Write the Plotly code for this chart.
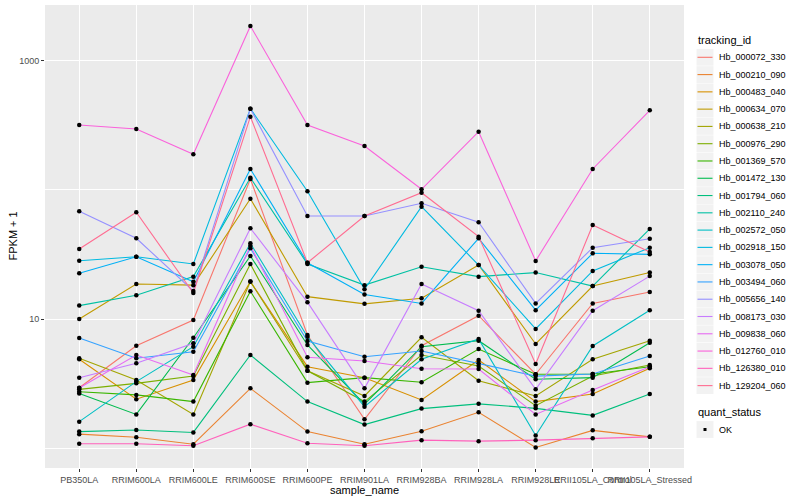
import plotly.graph_objects as go

samples = ["PB350LA", "RRIM600LA", "RRIM600LE", "RRIM600SE", "RRIM600PE", "RRIM901LA",
           "RRIM928BA", "RRIM928LA", "RRIM928LE", "RRII105LA_Control", "RRII105LA_Stressed"]

tracking_ids = ["Hb_000072_330", "Hb_000210_090", "Hb_000483_040", "Hb_000634_070",
                "Hb_000638_210", "Hb_000976_290", "Hb_001369_570", "Hb_001472_130",
                "Hb_001794_060", "Hb_002110_240", "Hb_002572_050", "Hb_002918_150",
                "Hb_003078_050", "Hb_003494_060", "Hb_005656_140", "Hb_008173_030",
                "Hb_009838_060", "Hb_012760_010", "Hb_126380_010", "Hb_129204_060"]

colors = ["#F8766D", "#EA8331", "#D89000", "#C09B00", "#A3A500", "#7CAE00", "#39B600",
          "#00BB4E", "#00BF7D", "#00C1A3", "#00BFC4", "#00BAE0", "#00B0F6", "#35A2FF",
          "#9590FF", "#C77CFF", "#E76BF3", "#FA62DB", "#FF62BC", "#FF6C91"]

# FPKM + 1 values per sample (order of `samples`)
Hb_000072_330 = [2.93, 6.21, 9.82, 121.7, 7.52, 1.67, 6.21, 10.6, 3.73, 13.2, 16.2]
Hb_000210_090 = [1.28, 1.21, 1.07, 2.90, 1.34, 1.07, 1.35, 1.89, 1.01, 1.37, 1.22]
Hb_000483_040 = [4.87, 2.39, 3.37, 19.5, 4.27, 3.51, 2.36, 4.81, 2.29, 2.62, 4.15]
Hb_000634_070 = [10.0, 18.7, 18.3, 85.6, 14.9, 13.1, 14.5, 26.2, 6.40, 18.0, 22.9]
Hb_000638_210 = [4.96, 3.37, 1.82, 19.5, 3.97, 2.53, 7.21, 3.32, 2.53, 4.87, 6.79]
Hb_000976_290 = [2.85, 3.17, 3.61, 26.7, 3.97, 2.29, 5.26, 4.32, 2.13, 3.61, 4.40]
Hb_001369_570 = [2.73, 2.58, 2.29, 16.4, 3.21, 3.51, 3.23, 5.85, 3.73, 3.75, 4.27]
Hb_001472_130 = [2.65, 1.82, 7.16, 30.8, 6.29, 2.19, 6.10, 6.79, 3.41, 3.51, 6.55]
Hb_001794_060 = [1.34, 1.38, 1.32, 5.26, 2.29, 1.52, 2.02, 2.20, 2.03, 1.79, 2.62]
Hb_002110_240 = [12.7, 15.3, 21.3, 124.5, 26.7, 18.3, 25.4, 21.3, 22.9, 18.0, 49.9]
Hb_002572_050 = [1.60, 3.27, 6.10, 38.6, 7.29, 2.09, 4.87, 7.00, 1.25, 6.18, 11.7]
Hb_002918_150 = [28.3, 30.4, 26.7, 427.0, 97.7, 17.0, 74.2, 26.2, 8.37, 23.6, 35.7]
Hb_003078_050 = [22.6, 30.4, 19.4, 145.5, 27.3, 15.5, 13.2, 42.2, 11.7, 32.3, 31.7]
Hb_003494_060 = [7.12, 4.96, 5.58, 35.3, 6.75, 5.10, 5.65, 4.54, 3.61, 3.75, 5.17]
Hb_005656_140 = [68.4, 42.2, 16.5, 427.0, 62.9, 62.9, 78.9, 56.2, 13.2, 35.7, 41.9]
Hb_008173_030 = [3.51, 4.54, 6.48, 50.5, 13.5, 2.90, 18.7, 11.6, 2.85, 11.6, 21.5]
Hb_009838_060 = [2.92, 5.26, 3.68, 37.0, 5.05, 4.73, 4.12, 4.10, 1.82, 2.82, 4.27]
Hb_012760_010 = [319.0, 297.0, 189.0, 1867.0, 319.0, 219.0, 101.3, 283.0, 28.2, 145.5, 414.8]
Hb_126380_010 = [1.08, 1.08, 1.04, 1.53, 1.09, 1.04, 1.15, 1.13, 1.15, 1.19, 1.22]
Hb_129204_060 = [34.9, 67.2, 15.9, 370.0, 27.3, 62.9, 95.3, 43.5, 4.48, 53.5, 33.1]

series = [Hb_000072_330, Hb_000210_090, Hb_000483_040, Hb_000634_070, Hb_000638_210,
          Hb_000976_290, Hb_001369_570, Hb_001472_130, Hb_001794_060, Hb_002110_240,
          Hb_002572_050, Hb_002918_150, Hb_003078_050, Hb_003494_060, Hb_005656_140,
          Hb_008173_030, Hb_009838_060, Hb_012760_010, Hb_126380_010, Hb_129204_060]

quant_status = ["OK"]

FONT = "Liberation Sans, Arial, sans-serif"

fig = go.Figure()
for name, color, vals in zip(tracking_ids, colors, series):
    fig.add_trace(go.Scatter(x=samples, y=vals, mode="lines", name=name,
                             line=dict(color=color, width=1.1), showlegend=False))
for name, vals in zip(tracking_ids, series):
    fig.add_trace(go.Scatter(x=samples, y=vals, mode="markers", name=name,
                             marker=dict(color="black", size=4.5, line=dict(width=0)),
                             showlegend=False))

# panel geometry in pixels
L, R, T, B = 45, 684, 5, 468
W, H = 800, 500


def px_x(px):
    return (px - L) / (R - L)


def px_y(py):
    return (B - py) / (B - T)


shapes = []
annotations = []

# axis titles
annotations.append(dict(x=0.5, y=px_y(490), xref="paper", yref="paper", text="sample_name",
                        showarrow=False, font=dict(family=FONT, size=11, color="black"),
                        xanchor="center", yanchor="middle"))
annotations.append(dict(x=px_x(12), y=0.5, xref="paper", yref="paper", text="FPKM + 1",
                        showarrow=False, textangle=-90,
                        font=dict(family=FONT, size=11, color="black"),
                        xanchor="center", yanchor="middle"))

# custom legend (ggplot style)
annotations.append(dict(x=px_x(696), y=px_y(40.5), xref="paper", yref="paper",
                        text="tracking_id", showarrow=False,
                        font=dict(family=FONT, size=11, color="black"),
                        xanchor="left", yanchor="middle"))
step = 17.28
for i, (name, color) in enumerate(zip(tracking_ids, colors)):
    cy = 57.3 + i * step
    shapes.append(dict(type="rect", xref="paper", yref="paper",
                       x0=px_x(696.5), x1=px_x(713.5), y0=px_y(cy - 8.4), y1=px_y(cy + 8.4),
                       fillcolor="#F2F2F2", line=dict(width=0), layer="below"))
    shapes.append(dict(type="line", xref="paper", yref="paper",
                       x0=px_x(697.5), x1=px_x(712.5), y0=px_y(cy), y1=px_y(cy),
                       line=dict(color=color, width=1.1)))
    annotations.append(dict(x=px_x(716.5), y=px_y(cy), xref="paper", yref="paper",
                            text=name, showarrow=False,
                            font=dict(family=FONT, size=9, color="black"),
                            xanchor="left", yanchor="middle"))

annotations.append(dict(x=px_x(696), y=px_y(412), xref="paper", yref="paper",
                        text="quant_status", showarrow=False,
                        font=dict(family=FONT, size=11, color="black"),
                        xanchor="left", yanchor="middle"))
cy = 429.5
shapes.append(dict(type="rect", xref="paper", yref="paper",
                   x0=px_x(696.5), x1=px_x(713.5), y0=px_y(cy - 8.4), y1=px_y(cy + 8.4),
                   fillcolor="#F2F2F2", line=dict(width=0), layer="below"))
shapes.append(dict(type="rect", xref="paper", yref="paper",
                   x0=px_x(703.5), x1=px_x(706.5), y0=px_y(cy - 1.5), y1=px_y(cy + 1.5),
                   fillcolor="black", line=dict(width=0)))
annotations.append(dict(x=px_x(716.5), y=px_y(cy), xref="paper", yref="paper",
                        text=quant_status[0], showarrow=False,
                        font=dict(family=FONT, size=9, color="black"),
                        xanchor="left", yanchor="middle"))

fig.update_layout(
    width=W, height=H,
    margin=dict(l=L, r=W - R, t=T, b=H - B, autoexpand=False),
    paper_bgcolor="white",
    plot_bgcolor="#EBEBEB",
    showlegend=False,
    font=dict(family=FONT, size=9, color="#4D4D4D"),
    shapes=shapes,
    annotations=annotations,
    xaxis=dict(
        type="category",
        categoryorder="array", categoryarray=samples,
        range=[-0.6, len(samples) - 1 + 0.6],
        showgrid=True, gridcolor="white", gridwidth=1.1,
        zeroline=False, showline=False,
        ticks="outside", ticklen=3, tickcolor="#333333", tickwidth=1,
        tickangle=0,
        tickfont=dict(family=FONT, size=9, color="#4D4D4D"),
        automargin=False,
    ),
    yaxis=dict(
        type="log",
        range=[-0.155, 3.434],
        tickvals=[10, 1000], ticktext=["10", "1000"],
        showgrid=True, gridcolor="white", gridwidth=1.1,
        minor=dict(tickvals=[1, 100], showgrid=True, gridcolor="white", gridwidth=0.55,
                   ticks=""),
        zeroline=False, showline=False,
        ticks="outside", ticklen=3, tickcolor="#333333", tickwidth=1,
        tickfont=dict(family=FONT, size=9, color="#4D4D4D"),
        automargin=False,
    ),
)

fig.write_html("out.html",
               config={"displayModeBar": False},
               post_script="document.body.style.margin='0px';document.body.style.padding='0px';")
